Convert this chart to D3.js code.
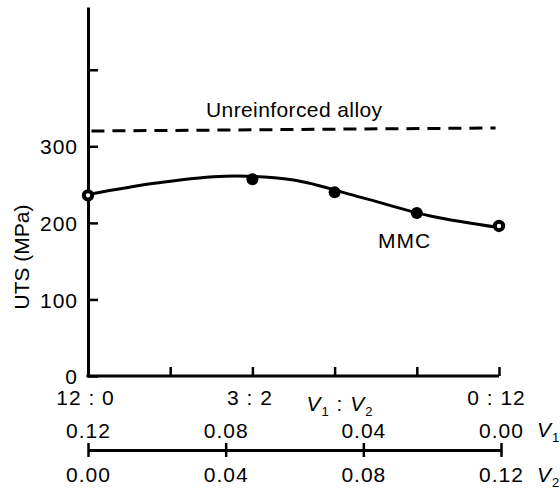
<!DOCTYPE html>
<html>
<head>
<meta charset="utf-8">
<script src="https://cdn.jsdelivr.net/npm/d3@7/dist/d3.min.js"></script>
<style>
    body { margin: 0; background: #fff; }
    svg text { font-family: "Liberation Sans", Arial, Helvetica, sans-serif; fill: #000; letter-spacing: 1px; }
</style>
</head>
<body>
<div id="chart"></div>
<script>
// volume fraction of second phase (V2), the horizontal quantity
var pointV2 = [0, 0.048, 0.072, 0.096, 0.12];
var pointUTS = [236, 257, 240, 213, 196];
var pointHollow = [true, false, false, false, true];

// fitted MMC curve
var curveV2 = [0, 0.02, 0.04, 0.06, 0.08, 0.10, 0.12];
var curveUTS = [237, 252, 261, 256, 233, 209, 194];

// unreinforced alloy (dashed)
var alloyV2 = [0.001, 0.119];
var alloyUTS = [320, 324];

var yTicks = [0, 100, 200, 300, 400];
var ratioTicks = [0, 0.024, 0.048, 0.072, 0.096, 0.12];
var ratioLabels = {0: "12 : 0", 0.048: "3 : 2", 0.12: "0 : 12"};
var fracTicks = [0, 0.04, 0.08, 0.12];

var width = 560, height = 493;
var fs = 21;
var svg = d3.select("#chart").append("svg")
    .attr("width", width)
    .attr("height", height);

var x = d3.scaleLinear().domain([0, 0.12]).range([88, 499]);
var x2 = d3.scaleLinear().domain([0, 0.12]).range([88, 501]);
var x2v1 = d3.scaleLinear().domain([0.12, 0]).range([88, 501]);
var y = d3.scaleLinear().domain([0, 482]).range([376, 7]);

function styleAxis(g) {
    g.selectAll("path").attr("stroke", "#000").attr("stroke-width", 3);
    g.selectAll("line").attr("stroke", "#000").attr("stroke-width", 2.5);
    g.selectAll("text").attr("font-size", fs).attr("font-family", null).attr("fill", "#000");
}

// y axis, ticks pointing inward
var yAxis = svg.append("g")
    .attr("transform", "translate(88,0)")
    .call(d3.axisLeft(y)
        .tickValues(yTicks)
        .tickSizeInner(-10)
        .tickSizeOuter(0)
        .tickPadding(10)
        .tickFormat(function (d) { return d <= 300 ? d : ""; }));
styleAxis(yAxis);
yAxis.selectAll("text").attr("dy", "0.36em");

svg.append("text")
    .attr("transform", "translate(29,257) rotate(-90)")
    .attr("text-anchor", "middle")
    .attr("font-size", fs)
    .style("letter-spacing", "0px")
    .text("UTS (MPa)");

// ratio axis V1 : V2
var xAxis = svg.append("g")
    .attr("transform", "translate(0,376)")
    .call(d3.axisBottom(x)
        .tickValues(ratioTicks)
        .tickSizeInner(-9)
        .tickSizeOuter(0)
        .tickPadding(14)
        .tickFormat(function (d) { return ratioLabels[d] || ""; }));
styleAxis(xAxis);
xAxis.selectAll("path").attr("d", "M" + (x(0) - 1.5) + ",0H" + x(0.12));
xAxis.selectAll("text").attr("dx", -3);

var ratioTitle = svg.append("text")
    .attr("x", 340)
    .attr("y", 411)
    .attr("text-anchor", "middle")
    .attr("font-size", fs);
ratioTitle.append("tspan").attr("font-style", "italic").text("V");
ratioTitle.append("tspan").attr("font-size", 13).attr("dy", 5).text("1");
ratioTitle.append("tspan").attr("dy", -5).text(" : ");
ratioTitle.append("tspan").attr("font-style", "italic").text("V");
ratioTitle.append("tspan").attr("font-size", 13).attr("dy", 5).text("2");

// fraction axis: V1 above, V2 below
var v1Axis = svg.append("g")
    .attr("transform", "translate(0,450)")
    .call(d3.axisTop(x2v1)
        .tickValues(fracTicks)
        .tickSizeInner(7)
        .tickSizeOuter(0)
        .tickPadding(5)
        .tickFormat(d3.format(".2f")));
styleAxis(v1Axis);

var v2Axis = svg.append("g")
    .attr("transform", "translate(0,450)")
    .call(d3.axisBottom(x2)
        .tickValues(fracTicks)
        .tickSizeInner(7)
        .tickSizeOuter(0)
        .tickPadding(10)
        .tickFormat(d3.format(".2f")));
styleAxis(v2Axis);
v2Axis.select("path").remove();

function subLabel(xp, yp, sub) {
    var t = svg.append("text").attr("x", xp).attr("y", yp).attr("font-size", fs);
    t.append("tspan").attr("font-style", "italic").text("V");
    t.append("tspan").attr("font-size", 13).attr("dy", 5).text(sub);
}
subLabel(537, 437, "1");
subLabel(537, 482, "2");

// unreinforced alloy line
var alloyLine = d3.line()
    .x(function (d, i) { return x(alloyV2[i]); })
    .y(function (d) { return y(d); });

svg.append("path")
    .datum(alloyUTS)
    .attr("d", alloyLine)
    .attr("fill", "none")
    .attr("stroke", "#000")
    .attr("stroke-width", 3)
    .attr("stroke-dasharray", "13,8");

svg.append("text")
    .attr("x", 206)
    .attr("y", 117)
    .attr("font-size", fs)
    .style("letter-spacing", "0.4px")
    .text("Unreinforced alloy");

// MMC curve
var mmcLine = d3.line()
    .x(function (d, i) { return x(curveV2[i]); })
    .y(function (d) { return y(d); })
    .curve(d3.curveCatmullRom);

svg.append("path")
    .datum(curveUTS)
    .attr("d", mmcLine)
    .attr("fill", "none")
    .attr("stroke", "#000")
    .attr("stroke-width", 3);

svg.selectAll("circle.pt")
    .data(pointUTS)
    .enter()
    .append("circle")
    .attr("class", "pt")
    .attr("cx", function (d, i) { return x(pointV2[i]); })
    .attr("cy", function (d) { return y(d); })
    .attr("r", function (d, i) { return pointHollow[i] ? 4.2 : 6; })
    .attr("fill", function (d, i) { return pointHollow[i] ? "#fff" : "#000"; })
    .attr("stroke", "#000")
    .attr("stroke-width", function (d, i) { return pointHollow[i] ? 4 : 0; });

svg.append("text")
    .attr("x", 378)
    .attr("y", 248)
    .attr("font-size", fs)
    .text("MMC");
</script>
</body>
</html>
